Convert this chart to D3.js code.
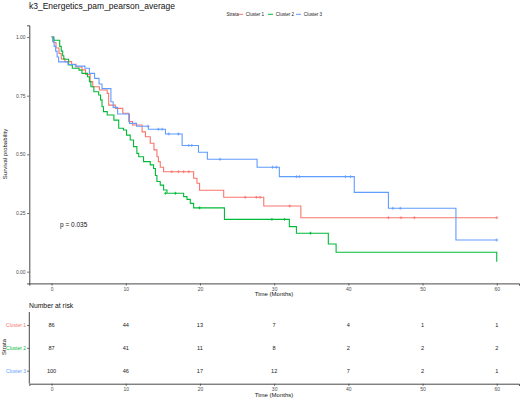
<!DOCTYPE html>
<html><head><meta charset="utf-8">
<script src="https://cdn.jsdelivr.net/npm/d3@7/dist/d3.min.js"></script>
<style>body{margin:0;background:#fff}svg{display:block;font-family:"Liberation Sans",Arial,sans-serif}</style>
</head><body><svg id="c" width="520" height="399"></svg>
<script>
const title = "k3_Energetics_pam_pearson_average";
const strata = ["Cluster 1", "Cluster 2", "Cluster 3"];
const colors = ["#F8766D", "#00BA38", "#619CFF"];
const timeTicks = [0, 10, 20, 30, 40, 50, 60];
const survTicks = [0, 0.25, 0.5, 0.75, 1];
const pValue = "p = 0.035";

// step curves: [time, survival]
const curve1 = [[0,1],[0.3,0.977],[0.6,0.953],[1.0,0.93],[1.3,0.907],[1.8,0.895],[2.7,0.884],[3.3,0.872],[4.1,0.86],[4.58,0.84],[5.2,0.81],[5.55,0.788],[6.45,0.774],[7.5,0.76],[7.7,0.71],[8.6,0.696],[9.6,0.675],[10.4,0.64],[10.9,0.625],[12.2,0.596],[12.65,0.575],[13.3,0.547],[13.8,0.519],[14.2,0.49],[14.4,0.469],[14.65,0.445],[15.1,0.426],[19.15,0.398],[19.6,0.377],[19.95,0.347],[23.2,0.317],[28.6,0.28],[33.6,0.23],[60,0.23]];
const curve2 = [[0,1],[0.3,0.986],[1.1,0.96],[1.3,0.94],[1.5,0.92],[1.65,0.905],[2.3,0.881],[2.8,0.867],[3.7,0.859],[4.1,0.845],[4.85,0.831],[5.1,0.81],[5.3,0.788],[5.7,0.767],[6.35,0.753],[6.6,0.732],[6.8,0.703],[7.0,0.682],[7.5,0.668],[8.4,0.646],[9.05,0.611],[9.7,0.604],[10.1,0.582],[10.6,0.561],[11.05,0.533],[11.5,0.504],[11.75,0.49],[12.4,0.469],[13.3,0.455],[13.75,0.44],[14.0,0.41],[14.2,0.384],[14.65,0.369],[15.1,0.348],[15.55,0.334],[17.8,0.32],[18.25,0.308],[18.7,0.291],[19.15,0.272],[23.3,0.223],[32.05,0.192],[33.0,0.164],[37.3,0.118],[38.35,0.083],[60,0.042]];
const curve3 = [[0,1],[0.15,0.98],[0.35,0.96],[0.55,0.94],[0.75,0.915],[0.95,0.894],[2.2,0.883],[3.2,0.876],[4.5,0.867],[5.1,0.845],[5.8,0.824],[6.4,0.8],[6.8,0.78],[8.0,0.724],[8.3,0.7],[8.9,0.672],[10.5,0.632],[11.45,0.62],[13.05,0.607],[15.35,0.587],[17.6,0.538],[19.8,0.509],[21.0,0.479],[27.7,0.445],[30.7,0.405],[40.8,0.338],[45.4,0.27],[54.5,0.135],[60,0.135]];

// censor marks: [time, survival]
const censor1 = [[16.2,0.426],[17.1,0.426],[17.8,0.426],[18.5,0.426],[26.1,0.317],[27.6,0.317],[28.1,0.317],[32.1,0.28],[45.4,0.23],[47.1,0.23],[48.9,0.23],[60,0.23]];
const censor2 = [[15.35,0.334],[16.7,0.334],[19.95,0.272],[29.7,0.223],[31.4,0.223],[34.9,0.164]];
const censor3 = [[13.0,0.62],[14.4,0.607],[14.9,0.607],[15.8,0.587],[17.1,0.587],[18.5,0.538],[18.9,0.538],[22.7,0.479],[29.8,0.445],[30.3,0.445],[33.0,0.405],[33.4,0.405],[39.6,0.405],[40.3,0.405],[46.0,0.27],[47.0,0.27],[60,0.135]];

// number at risk
const risk1 = [86, 44, 13, 7, 4, 1, 1];
const risk2 = [87, 41, 11, 8, 2, 2, 2];
const risk3 = [100, 46, 17, 12, 7, 2, 1];

const curves = [curve1, curve2, curve3];
const censors = [censor1, censor2, censor3];
const risks = [risk1, risk2, risk3];

const svg = d3.select("#c");
const L = 29.3, R = 519;
const x = d3.scaleLinear().domain([-3, 63]).range([L, R]);
const y = d3.scaleLinear().domain([-0.05, 1.05]).range([283.4, 25.3]);
const axisCol = "#333", tickTxt = "#4d4d4d";

svg.append("text").attr("x", 29).attr("y", 9).attr("font-size", 8.5).attr("fill", "#111").text(title);

// legend
const lg = svg.append("g").attr("font-size", 4.6).attr("fill", "#222");
lg.append("text").attr("x", 226.5).attr("y", 16).text("Strata");
const legX = [238, 268, 296];
strata.forEach((s, i) => {
  lg.append("line").attr("x1", legX[i]).attr("x2", legX[i] + 5).attr("y1", 14.3).attr("y2", 14.3).attr("stroke", colors[i]).attr("stroke-width", 1);
  lg.append("text").attr("x", legX[i] + 7.8).attr("y", 16).text(s);
});

// main axes
const gx = svg.append("g").attr("transform", `translate(0,${283.4})`)
  .call(d3.axisBottom(x).tickValues(timeTicks).tickSize(2.2).tickPadding(1.5));
const gy = svg.append("g").attr("transform", `translate(${L},0)`)
  .call(d3.axisLeft(y).tickValues(survTicks).tickFormat(d3.format(".2f")).tickSize(2.2).tickPadding(1.5));
[gx, gy].forEach(g => {
  g.select(".domain").attr("stroke", axisCol).attr("stroke-width", 0.9);
  g.selectAll(".tick line").attr("stroke", axisCol).attr("stroke-width", 0.7);
  g.selectAll(".tick text").attr("fill", tickTxt).attr("font-size", 5).attr("font-family", "Liberation Sans, Arial, sans-serif");
});
svg.append("text").attr("x", 274).attr("y", 296).attr("text-anchor", "middle").attr("font-size", 6).attr("fill", "#111").text("Time (Months)");
svg.append("text").attr("transform", "translate(7,154) rotate(-90)").attr("text-anchor", "middle").attr("font-size", 6).attr("fill", "#111").text("Survival probability");

// curves
const line = d3.line().x(d => x(d[0])).y(d => y(d[1])).curve(d3.curveStepAfter);
curves.forEach((c, i) => {
  svg.append("path").datum(c).attr("d", line).attr("fill", "none").attr("stroke", colors[i]).attr("stroke-width", 1.1);
});
censors.forEach((cs, i) => {
  svg.append("g").selectAll("path").data(cs).join("path")
    .attr("d", d => { const px = x(d[0]), py = y(d[1]); return `M${px-1.5},${py}H${px+1.5}M${px},${py-1.5}V${py+1.5}`; })
    .attr("stroke", colors[i]).attr("stroke-width", 0.8);
});

svg.append("text").attr("x", 60).attr("y", 227).attr("font-size", 6.5).attr("fill", "#111").text(pValue);

// risk table
svg.append("text").attr("x", 29).attr("y", 307.5).attr("font-size", 6.8).attr("fill", "#111").text("Number at risk");
const yr = d3.scalePoint().domain(strata).range([325, 370.7]);
const gxr = svg.append("g").attr("transform", "translate(0,383.7)")
  .call(d3.axisBottom(x).tickValues(timeTicks).tickSize(2.2).tickPadding(1.5));
const gyr = svg.append("g").attr("transform", `translate(${L},0)`)
  .call(d3.axisLeft(yr).tickSize(2.2).tickPadding(1));
gyr.select(".domain").attr("d", `M-0,312V383.7`);
[gxr, gyr].forEach(g => {
  g.select(".domain").attr("stroke", axisCol).attr("stroke-width", 0.9);
  g.selectAll(".tick line").attr("stroke", axisCol).attr("stroke-width", 0.7);
  g.selectAll(".tick text").attr("fill", tickTxt).attr("font-size", 5).attr("font-family", "Liberation Sans, Arial, sans-serif");
});
gyr.selectAll(".tick text").attr("fill", (d, i) => colors[i]);
risks.forEach((r, i) => {
  svg.append("g").selectAll("text").data(r).join("text")
    .attr("x", (d, j) => x(timeTicks[j])).attr("y", yr(strata[i]) + 2)
    .attr("text-anchor", "middle").attr("font-size", 5.6).attr("fill", "#222").text(d => d);
});
svg.append("text").attr("x", 274).attr("y", 396.5).attr("text-anchor", "middle").attr("font-size", 6).attr("fill", "#111").text("Time (Months)");
svg.append("text").attr("transform", "translate(6,347) rotate(-90)").attr("text-anchor", "middle").attr("font-size", 6).attr("fill", "#111").text("Strata");
</script></body></html>
